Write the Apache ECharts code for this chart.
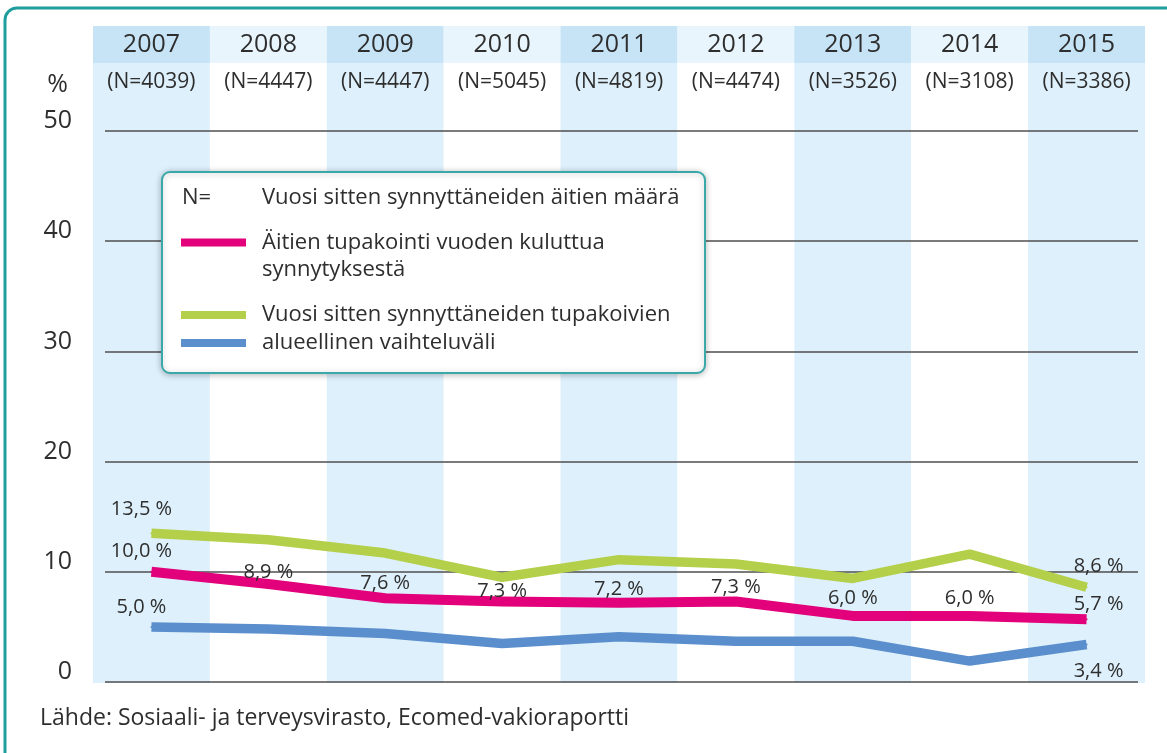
<!DOCTYPE html>
<html><head><meta charset="utf-8">
<script src="https://cdn.jsdelivr.net/npm/echarts@6/dist/echarts.min.js"></script>
<style>html,body{margin:0;padding:0;background:#fff}#c{width:1167px;height:753px}</style>
</head><body><div id="c"></div>
<script>
// ---- data ----
const years = ['2007','2008','2009','2010','2011','2012','2013','2014','2015'];
const nCounts = [4039, 4447, 4447, 5045, 4819, 4474, 3526, 3108, 3386];
const smokingAfterYear = [10.0, 8.9, 7.6, 7.3, 7.2, 7.3, 6.0, 6.0, 5.7];      // magenta
const regionalHigh = [13.5, 12.9, 11.7, 9.5, 11.1, 10.7, 9.4, 11.6, 8.6];     // green
const regionalLow = [5.0, 4.8, 4.4, 3.5, 4.1, 3.7, 3.7, 1.9, 3.4];            // blue
const yTicks = [0, 10, 20, 30, 40, 50];

const nameMagenta = 'Äitien tupakointi vuoden kuluttua synnytyksestä';
const nameGreen = 'Vuosi sitten synnyttäneiden tupakoivien';
const nameBlue = 'alueellinen vaihteluväli';
const nNote = 'Vuosi sitten synnyttäneiden äitien määrä';
const source = 'Lähde: Sosiaali- ja terveysvirasto, Ecomed-vakioraportti';

// ---- styling ----
const FONT = 'Open Sans';
const TXT = '#2e2e2e';
const fmt = v => v.toFixed(1).replace('.', ',') + ' %';
const last = years.length - 1;

function buildData(values, labelSpec) {
  return values.map((v, i) => {
    const s = labelSpec[i];
    if (!s) return { value: v };
    return {
      value: v,
      label: {
        show: true, position: s.pos || 'top', distance: s.d,
        offset: [i === 0 ? -10 : (i === last ? 12 : 0), 0]
      }
    };
  });
}
const magentaLabels = {0:{d:10},1:{d:1},2:{d:4},3:{d:-1},4:{d:2},5:{d:3},6:{d:7},7:{d:7},8:{d:4}};
const greenLabels = {0:{d:13}, 8:{d:10}};
const blueLabels = {0:{d:9}, 8:{d:16, pos:'bottom'}};

const labelStyle = { show: false, color: TXT, fontSize: 20, fontFamily: FONT, formatter: p => fmt(p.value) };

function lineSeries(name, color, width, values, spec) {
  return {
    type: 'line', name, xAxisIndex: 2, yAxisIndex: 2,
    data: buildData(values, spec),
    symbol: 'circle', symbolSize: 2, showSymbol: true,
    itemStyle: { color },
    lineStyle: { color, width, cap: 'butt', join: 'round' },
    label: labelStyle,
    emphasis: { disabled: true },
    z: 4
  };
}

const hiddenAxisParts = { axisLine: { show: false }, axisTick: { show: false }, axisLabel: { show: false }, splitLine: { show: false } };

const option = {
  animation: false,
  backgroundColor: '#ffffff',
  textStyle: { fontFamily: FONT },
  grid: [
    { left: 93, right: 22, top: 26, bottom: 70, outerBoundsMode: 'none' },   // stripes
    { left: 93, right: 22, top: 26, height: 37, outerBoundsMode: 'none' },   // header row
    { left: 93, right: 22, top: 131, bottom: 71, outerBoundsMode: 'none' },  // lines
    { left: 105, right: 29, top: 131, bottom: 71, outerBoundsMode: 'none' }  // gridlines
  ],
  xAxis: [
    { type: 'category', gridIndex: 0, data: years, boundaryGap: true, z: 0, ...hiddenAxisParts,
      splitArea: { show: true, interval: 0, areaStyle: { color: ['#ddf0fb', '#ffffff'] } } },
    { type: 'category', gridIndex: 1, data: years, boundaryGap: true, position: 'top', z: 1,
      axisLine: { show: false }, axisTick: { show: false }, splitLine: { show: false },
      splitArea: { show: true, interval: 0, areaStyle: { color: ['#c7e4f7', '#e9f5fc'] } },
      axisLabel: { show: true, inside: true, margin: 0, interval: 0,
        formatter: (v, i) => '{y|' + v + '}\n{n|(N=' + nCounts[i] + ')}',
        rich: {
          y: { fontSize: 25, lineHeight: 37, color: TXT, fontFamily: FONT },
          n: { fontSize: 21, lineHeight: 38, color: TXT, fontFamily: FONT }
        } } },
    { type: 'category', gridIndex: 2, data: years, boundaryGap: true, ...hiddenAxisParts },
    { type: 'value', gridIndex: 3, min: 0, max: 1, show: true, ...hiddenAxisParts }
  ],
  yAxis: [
    { type: 'value', gridIndex: 0, min: 0, max: 1, ...hiddenAxisParts },
    { type: 'value', gridIndex: 1, min: 0, max: 1, ...hiddenAxisParts },
    { type: 'value', gridIndex: 2, min: yTicks[0], max: yTicks[yTicks.length - 1], interval: 10, ...hiddenAxisParts },
    { type: 'value', gridIndex: 3, min: yTicks[0], max: yTicks[yTicks.length - 1], interval: 10, z: 2,
      name: '%', nameLocation: 'end', nameGap: 34,
      nameTextStyle: { fontSize: 25, color: TXT, fontFamily: FONT, align: 'right', padding: [0, 37, 0, 0] },
      axisLine: { show: false }, axisTick: { show: false },
      axisLabel: { show: true, fontSize: 25, lineHeight: 20, color: TXT, fontFamily: FONT, margin: 33, verticalAlign: 'bottom' },
      splitLine: { show: true, lineStyle: { color: '#4f4f4f', width: 1.6 } } }
  ],
  legend: [
    { show: true, z: 8, left: 181, top: 202, padding: 0, orient: 'vertical', selectedMode: false,
      data: [nameMagenta], icon: 'rect', itemWidth: 65, itemHeight: 8,
      formatter: () => '\nÄitien tupakointi vuoden kuluttua\nsynnytyksestä',
      textStyle: { fontSize: 22, lineHeight: 27, color: TXT, fontFamily: FONT, padding: [0, 0, 0, 11] } },
    { show: true, z: 8, left: 181, top: 301, padding: 0, orient: 'vertical', selectedMode: false,
      data: [nameGreen, nameBlue], icon: 'rect', itemWidth: 65, itemHeight: 8, itemGap: 0,
      textStyle: { fontSize: 22, lineHeight: 28, color: TXT, fontFamily: FONT, padding: [0, 0, 0, 11] } }
  ],
  title: {
    text: source, left: 40, top: 707, padding: 0,
    textStyle: { fontSize: 23, fontWeight: 'normal', color: TXT, fontFamily: FONT }
  },
  graphic: [
    { type: 'rect', z: 0, silent: true, shape: { x: 5, y: 8, width: 1400, height: 1000, r: 12 },
      style: { fill: null, stroke: '#1f9e9d', lineWidth: 3 } },
    { type: 'rect', z: 6, silent: true, shape: { x: 162, y: 172, width: 543, height: 201, r: 8 },
      style: { fill: '#ffffff', stroke: '#3aa8a9', lineWidth: 2, shadowBlur: 6, shadowColor: 'rgba(0,0,0,0.25)', shadowOffsetY: 1 } },
    { type: 'text', z: 9, silent: true, left: 182, top: 187,
      style: { text: 'N=', fontSize: 22, fill: TXT, fontFamily: FONT } },
    { type: 'text', z: 9, silent: true, left: 262, top: 187,
      style: { text: nNote, fontSize: 22, fill: TXT, fontFamily: FONT } }
  ],
  series: [
    lineSeries(nameGreen, '#b4cf4a', 9.5, regionalHigh, greenLabels),
    lineSeries(nameBlue, '#5b8ecc', 9.5, regionalLow, blueLabels),
    lineSeries(nameMagenta, '#e2007b', 10, smokingAfterYear, magentaLabels)
  ]
};

const chart = echarts.init(document.getElementById('c'), null, { renderer: 'canvas' });
chart.setOption(option);
</script>
</body></html>
